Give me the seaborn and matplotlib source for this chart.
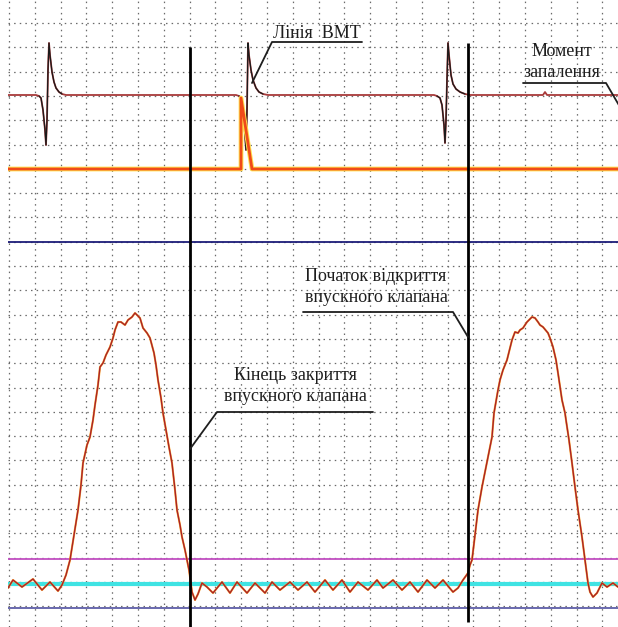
import matplotlib
matplotlib.use("Agg")
import matplotlib.pyplot as plt
import seaborn as sns
import numpy as np
import pandas as pd

# ---- data (in screen-like units: x to the right, y downward) ----
ign_x = [8, 36, 39, 41, 43, 45, 46, 47, 48, 49, 50, 52, 54, 56, 59, 62, 66,
         236, 239, 241, 243, 245, 246, 247, 248, 249, 251, 253, 256, 259, 263, 268,
         434, 437, 440, 442, 444, 445, 446, 447, 448, 449, 451, 453, 456, 460, 465, 470,
         543, 545, 547, 618]
ign_y = [95, 95, 96, 98, 110, 130, 145, 120, 70, 43, 55, 72, 82, 88, 92, 94, 95,
         95, 96, 99, 110, 135, 150, 110, 43, 55, 70, 80, 88, 92, 94, 95,
         95, 96, 98, 105, 125, 143, 120, 80, 43, 55, 75, 84, 89, 92, 94, 95,
         95, 92, 95, 95]

sync_x = [8, 241, 241, 252, 618]
sync_y = [169, 169, 98, 169, 169]

blue_x = [8, 618]
blue_y = [242, 242]

valve_x = [8, 13, 22, 33, 42, 50, 58, 62, 66, 70, 74, 78, 81, 83, 87, 90, 93, 95, 98, 100,
           103, 106, 110, 113, 115, 118, 121, 125, 128, 132, 135, 138, 140, 143, 147, 150,
           154, 156, 158, 161, 163, 166, 169, 172, 175, 177, 180, 182, 185, 187, 189, 190,
           192, 195, 198, 202, 207, 213, 222, 230, 237, 247, 255, 265, 272, 280, 290, 298,
           307, 315, 325, 333, 342, 350, 358, 368, 377, 383, 393, 402, 410, 418, 427, 435,
           443, 453, 458, 463, 468, 470, 472, 475, 478, 482, 487, 492, 494, 498, 500, 503,
           507, 510, 512, 515, 518, 520, 523, 527, 530, 532, 535, 538, 540, 543, 548, 550,
           553, 556, 558, 562, 565, 566, 569, 572, 575, 578, 582, 585, 588, 590, 593, 597,
           602, 607, 613, 618]
valve_y = [588, 580, 587, 579, 590, 582, 591, 585, 575, 560, 535, 510, 485, 463, 445, 437, 420, 405, 385, 367,
           363, 355, 347, 338, 330, 322, 322, 325, 320, 317, 313, 316, 318, 328, 333, 338,
           353, 365, 380, 398, 413, 430, 447, 463, 490, 510, 525, 537, 550, 560, 570, 577,
           592, 600, 594, 583, 587, 593, 582, 593, 582, 593, 583, 593, 582, 590, 582, 590,
           582, 592, 580, 590, 580, 592, 582, 590, 580, 588, 580, 590, 582, 592, 580, 588,
           580, 592, 588, 580, 573, 565, 560, 535, 510, 487, 462, 437, 413, 390, 380, 370,
           360, 348, 340, 332, 333, 330, 328, 322, 319, 317, 318, 322, 325, 327, 333, 338,
           347, 360, 373, 400, 413, 420, 440, 463, 487, 510, 537, 560, 583, 592, 597, 593,
           583, 587, 583, 587]

level_names = ["magenta", "cyan", "slate"]
level_y = [559, 584, 608]

marker_x = [190, 468]          # vertical black marker lines
marker_top = [47, 43]
marker_bottom = [627, 622]

labels = ["Лінія  ВМТ", "Момент\nзапалення", "Початок відкриття\nвпускного клапана",
          "Кінець закриття\nвпускного клапана"]

# ---- figure ----
sns.set_style("white")
W, H = 618, 627
fig = plt.figure(figsize=(W / 100, H / 100), dpi=100)
ax = fig.add_axes([8 / W, 0, (W - 8) / W, 1])
ax.set_xlim(8, W)
ax.set_ylim(H, 0)

# dotted grid
ax.set_xticks(9 + 25.8 * np.arange(24))
ax.set_yticks(23 + 24.3 * np.arange(25))
ax.grid(True, color="#6a6a6a", linestyle=(0, (1.2, 3.3)), linewidth=0.9)
ax.tick_params(left=False, bottom=False, labelleft=False, labelbottom=False)
for s in ax.spines.values():
    s.set_visible(False)
ax.set_axisbelow(True)

def line(df, **kw):
    sns.lineplot(data=df, x="x", y="y", ax=ax, sort=False, estimator=None, **kw)

# horizontal reference levels
lev_colors = {"magenta": ("#c24fc2", 1.3), "cyan": ("#3fe3e3", 3.0), "slate": ("#5e5ea8", 1.3)}
for name, y in zip(level_names, level_y):
    c, lw = lev_colors[name]
    line(pd.DataFrame({"x": [8, W], "y": [y, y]}), color=c, lw=lw)

# ignition trace
ign = pd.DataFrame({"x": ign_x, "y": ign_y})
line(ign, color="#a83a3a", lw=1.3)
for lo, hi in [(37, 66), (237, 268), (435, 470)]:
    line(ign[(ign["x"] > lo) & (ign["x"] < hi)], color="#1a1a1a", lw=0.9)

# sync pulse trace
syn = pd.DataFrame({"x": sync_x, "y": sync_y})
line(syn, color="#ffe04a", lw=3.4)
line(syn, color="#f04a1a", lw=2.0)

# blue trace
line(pd.DataFrame({"x": blue_x, "y": blue_y}), color="#1c1c78", lw=1.3)

# valve lift trace
val = pd.DataFrame({"x": valve_x, "y": valve_y})
line(val, color="#ffab2e", lw=1.5)
line(val, color="#a8232a", lw=1.0)

# vertical markers
for x, t, b in zip(marker_x, marker_top, marker_bottom):
    ax.plot([x, x], [t, b], color="black", lw=2.0, solid_capstyle="butt")

# annotations
tfont = dict(family="Liberation Serif", fontsize=13, color="#1e1e1e")
lc = dict(color="#1e1e1e", lw=1.3)
ax.text(317, 34, labels[0], ha="center", va="center", **tfont)
ax.plot([362, 272, 252], [42, 42, 83], **lc)

ax.text(562, 62, labels[1], ha="center", va="center", linespacing=1.3, **tfont)
ax.plot([523, 606, 620], [83, 83, 107], **lc)

ax.text(376, 287, labels[2], ha="center", va="center", linespacing=1.3, **tfont)
ax.plot([303, 453, 468], [312, 312, 337], **lc)

ax.text(295, 386, labels[3], ha="center", va="center", linespacing=1.3, **tfont)
ax.plot([373, 217, 190], [412, 412, 449], **lc)

ax.set_xlabel("")
ax.set_ylabel("")
fig.savefig("out.png", dpi=100)
